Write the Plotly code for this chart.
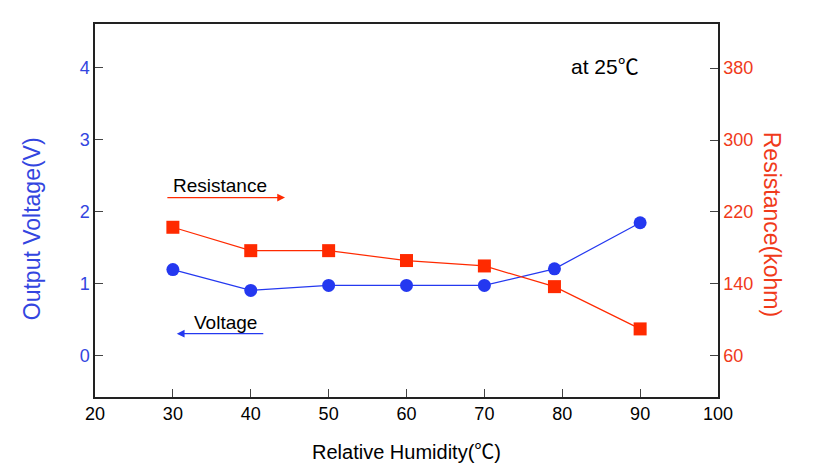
import plotly.graph_objects as go

humidity = [30, 40, 50, 60, 70, 79, 90]
voltage = [1.20, 0.91, 0.98, 0.98, 0.98, 1.21, 1.85]
resistance = [203, 177, 177, 166, 160, 137, 90]

left_ticks = [0, 1, 2, 3, 4]
right_ticks = [60, 140, 220, 300, 380]
x_ticks = [20, 30, 40, 50, 60, 70, 80, 90, 100]

BLUE = "#2438f0"
RED = "#ff2a00"
BLUE_TXT = "#3345e0"
RED_TXT = "#f03a1a"
FONT = "Liberation Sans, Arial, Noto Sans CJK SC"

fig = go.Figure()
fig.add_trace(go.Scatter(
    x=humidity, y=resistance, yaxis="y2", mode="lines+markers",
    line=dict(color=RED, width=1.2),
    marker=dict(symbol="square", size=13, color=RED),
    showlegend=False))
fig.add_trace(go.Scatter(
    x=humidity, y=voltage, mode="lines+markers",
    line=dict(color=BLUE, width=1.2),
    marker=dict(symbol="circle", size=13, color=BLUE),
    showlegend=False))

fig.update_layout(
    width=824, height=472,
    margin=dict(l=95, r=106, t=24, b=75),
    paper_bgcolor="white", plot_bgcolor="white",
    font=dict(family=FONT, size=16, color="black"),
    xaxis=dict(range=[20, 100], tickvals=x_ticks, ticks="inside", ticklen=8,
               showline=True, linecolor="#222", linewidth=1.5, mirror=True,
               showgrid=False, zeroline=False,
               tickfont=dict(size=18, color="black"),
               title=dict(text="Relative Humidity(℃)", font=dict(size=20), standoff=22)),
    yaxis=dict(range=[-0.57, 4.61], tickvals=left_ticks, ticks="inside", ticklen=8,
               showline=True, linecolor="#222", linewidth=1.5,
               showgrid=False, zeroline=False,
               tickfont=dict(size=18, color=BLUE_TXT)),
    yaxis2=dict(range=[14.3, 429], tickvals=right_ticks, ticks="inside", ticklen=8,
                overlaying="y", side="right",
                showline=True, linecolor="#222", linewidth=1.5,
                showgrid=False, zeroline=False,
                tickfont=dict(size=18, color=RED_TXT)),
)

# axis titles as rotated annotations (positioned like the reference)
fig.add_annotation(x=-0.101, y=0.45, xref="paper", yref="paper", text="Output Voltage(V)",
                   xanchor="center", yanchor="middle",
                   textangle=-90, showarrow=False, font=dict(size=23, color=BLUE_TXT))
fig.add_annotation(x=1.087, y=0.464, xref="paper", yref="paper", text="Resistance(kohm)",
                   xanchor="center", yanchor="middle",
                   textangle=90, showarrow=False, font=dict(size=23, color=RED_TXT))

fig.add_annotation(x=85.5, y=4.02, xref="x", yref="y", text="at 25℃", showarrow=False,
                   font=dict(size=21, color="black"))
fig.add_annotation(x=36.0, y=2.37, xref="x", yref="y", text="Resistance", showarrow=False,
                   font=dict(size=19, color="black"))
fig.add_annotation(x=36.8, y=0.47, xref="x", yref="y", text="Voltage", showarrow=False,
                   font=dict(size=19, color="black"))
fig.add_annotation(x=44.4, y=2.20, ax=29.1, ay=2.20, xref="x", yref="y", axref="x", ayref="y",
                   text="", showarrow=True, arrowhead=2, arrowsize=1.3, arrowwidth=1.2, arrowcolor=RED)
fig.add_annotation(x=30.5, y=0.31, ax=41.8, ay=0.31, xref="x", yref="y", axref="x", ayref="y",
                   text="", showarrow=True, arrowhead=2, arrowsize=1.3, arrowwidth=1.2, arrowcolor=BLUE)

fig.write_html("out.html")
